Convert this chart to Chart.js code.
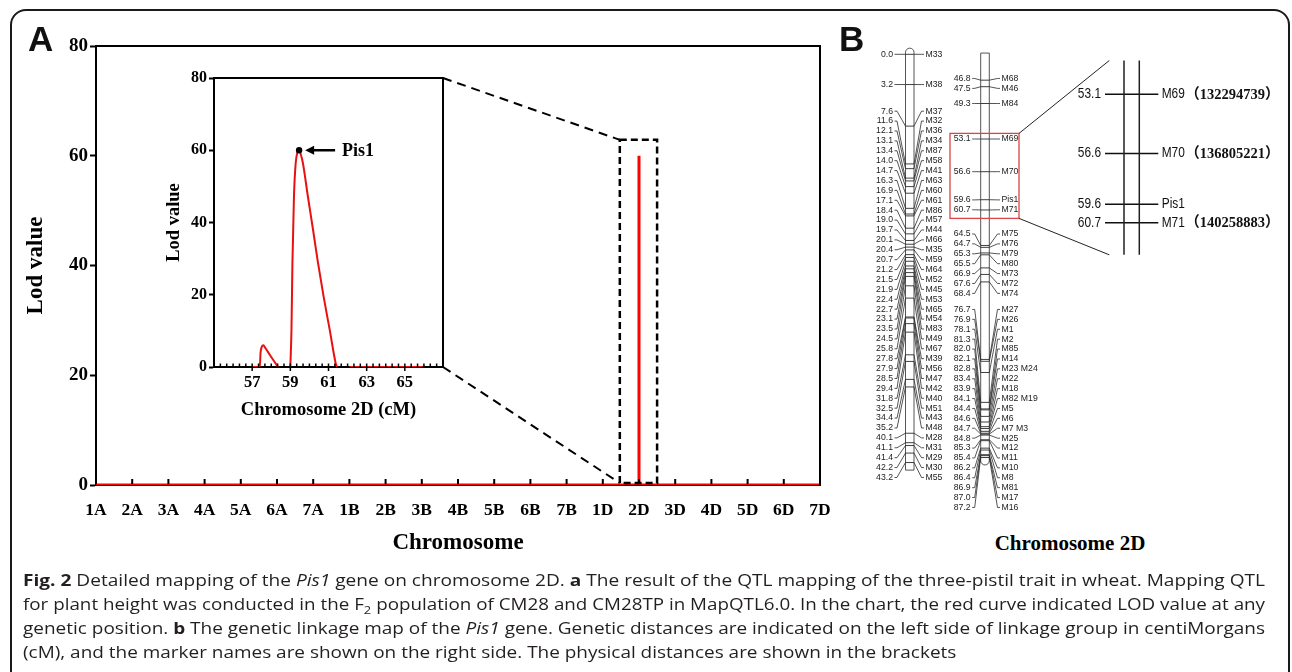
<!DOCTYPE html>
<html><head><meta charset="utf-8">
<script src="https://cdn.jsdelivr.net/npm/chart.js@4.4.1/dist/chart.umd.min.js"></script>
<style>
html,body{margin:0;padding:0;background:#fff;width:1292px;height:672px;overflow:hidden;position:relative;}
#frame{position:absolute;left:10px;top:9px;width:1280px;height:720px;border:2px solid #1a1a1a;border-radius:16px;box-sizing:border-box;}
canvas{position:absolute;}
.big{position:absolute;font-family:'Liberation Sans',Arial,sans-serif;font-weight:bold;color:#111;line-height:1;font-size:35px;}
.ttl{position:absolute;font-family:'Liberation Serif','Times New Roman',serif;font-weight:bold;color:#000;font-size:21px;line-height:24px;white-space:nowrap;}
.cap{position:absolute;left:23px;white-space:nowrap;font-family:'Open Sans','Noto Sans',sans-serif;font-size:16px;color:#231f20;transform-origin:0 50%;line-height:20px;}
.cap sub{font-size:11px;line-height:0;}
</style></head><body>
<div id="frame"></div>
<canvas id="cMain" width="850" height="570" style="left:0;top:0"></canvas>
<canvas id="cInset" width="840" height="570" style="left:0;top:0"></canvas>
<canvas id="cMap" width="442" height="500" style="left:850px;top:30px"></canvas>
<div class="big" style="left:28px;top:21px">A</div>
<div class="big" style="left:839px;top:21px">B</div>
<div class="ttl" id="t2d" style="left:1070px;top:531px;transform:translateX(-50%)">Chromosome 2D</div>
<div class="cap" id="cap1" style="top:570px"><b>Fig. 2</b> Detailed mapping of the <i>Pis1</i> gene on chromosome 2D. <b>a</b> The result of the QTL mapping of the three-pistil trait in wheat. Mapping QTL</div>
<div class="cap" id="cap2" style="top:594px">for plant height was conducted in the F<sub>2</sub> population of CM28 and CM28TP in MapQTL6.0. In the chart, the red curve indicated LOD value at any</div>
<div class="cap" id="cap3" style="top:618px">genetic position. <b>b</b> The genetic linkage map of the <i>Pis1</i> gene. Genetic distances are indicated on the left side of linkage group in centiMorgans</div>
<div class="cap" id="cap4" style="top:642px">(cM), and the marker names are shown on the right side. The physical distances are shown in the brackets</div>
<script>
// ---------------- DATA ----------------
const chromosomes = ['1A','2A','3A','4A','5A','6A','7A','1B','2B','3B','4B','5B','6B','7B','1D','2D','3D','4D','5D','6D','7D'];
const lodTicks = [0, 20, 40, 60, 80];
// genome-wide LOD profile (x in chromosome index units)
const genomePosition = [0, 15, 15, 15, 20];
const genomeLod      = [0, 0, 60, 0, 0];
// highlighted region around 2D (chromosome-index / LOD units)
const zoomBox = {from: 14.47, to: 15.5, bottom: 0.35, top: 62.9};

// inset: LOD along chromosome 2D (cM); null = no curve
const insetCM  = [57.05, 57.40, 57.44, 57.50, 57.58, 57.70, 57.92, 58.15, 58.36, 58.70,
                  59.00, 59.06, 59.11, 59.19, 59.28, 59.37, 59.46, 59.55, 59.66, 59.92, 60.19, 60.45, 60.74, 61.06, 61.37, 61.44,
                  61.80, 62.10, 65.93];
const insetLod = [0, 0, 4.0, 5.5, 6.0, 5.2, 3.4, 1.6, 0, null,
                  0, 10.4, 28.8, 47.2, 56.4, 59.4, 60, 58.8, 56.4, 47.2, 38.0, 28.8, 19.6, 10.4, 1.2, 0,
                  null, 0, 0];
const insetTickLabels = [57, 59, 61, 63, 65];
const peakName = 'Pis1';

// linkage map of chromosome 2D
const leftCM = [0.0,3.2,7.6,11.6,12.1,13.1,13.4,14.0,14.7,16.3,16.9,17.1,18.4,19.0,19.7,20.1,20.4,20.7,21.2,21.5,21.9,22.4,22.7,23.1,23.5,24.5,25.8,27.8,27.9,28.5,29.4,31.8,32.5,34.4,35.2,40.1,41.1,41.4,42.2,43.2];
const leftMarkers = ['M33','M38','M37','M32','M36','M34','M87','M58','M41','M63','M60','M61','M86','M57','M44','M66','M35','M59','M64','M52','M45','M53','M65','M54','M83','M49','M67','M39','M56','M47','M42','M40','M51','M43','M48','M28','M31','M29','M30','M55'];
const midCM = [46.8,47.5,49.3,53.1,56.6,59.6,60.7,64.5,64.7,65.3,65.5,66.9,67.6,68.4,76.7,76.9,78.1,81.3,82.0,82.1,82.8,83.4,83.9,84.1,84.4,84.6,84.7,84.8,85.3,85.4,86.2,86.4,86.9,87.0,87.2];
const midMarkers = ['M68','M46','M84','M69','M70','Pis1','M71','M75','M76','M79','M80','M73','M72','M74','M27','M26','M1','M2','M85','M14','M23 M24','M22','M18','M82 M19','M5','M6','M7 M3','M25','M12','M11','M10','M8','M81','M17','M16'];
const detailCM = [53.1, 56.6, 59.6, 60.7];
const detailMarkers = ['M69', 'M70', 'Pis1', 'M71'];
const detailPhysical = ['132294739', '136805221', '', '140258883'];
const highlightCM = {from: 52.5, to: 61.6};
const detailRangeCM = [51.1, 62.6];

// ---------------- CHARTS ----------------
Chart.defaults.font.family = "'Liberation Serif','Times New Roman',serif";
Chart.defaults.color = '#000';

const mainDecor = {
  id: 'mainDecor',
  afterDraw(chart) {
    const {ctx, chartArea: a, scales: {x, y}} = chart;
    ctx.save();
    ctx.strokeStyle = '#000'; ctx.lineWidth = 2;
    ctx.beginPath(); ctx.moveTo(a.left - 1, a.top); ctx.lineTo(a.right, a.top); ctx.lineTo(a.right, a.bottom); ctx.stroke();
    ctx.beginPath();
    chromosomes.forEach((c, i) => { const px = x.getPixelForValue(i); ctx.moveTo(px, a.bottom - 1); ctx.lineTo(px, a.bottom - 6); });
    ctx.stroke();
    ctx.setLineDash([7, 4]); ctx.lineWidth = 2.5;
    const x0 = x.getPixelForValue(zoomBox.from), x1 = x.getPixelForValue(zoomBox.to);
    const y0 = y.getPixelForValue(zoomBox.top), y1 = y.getPixelForValue(zoomBox.bottom);
    ctx.strokeRect(x0, y0, x1 - x0, y1 - y0);
    ctx.restore();
  }
};

const mainChart = new Chart(document.getElementById('cMain'), {
  type: 'scatter',
  data: {datasets: [{
    data: genomePosition.map((v, i) => ({x: v, y: genomeLod[i]})),
    showLine: true, borderColor: '#ff0000', borderWidth: 3, pointRadius: 0, pointHoverRadius: 0, tension: 0
  }]},
  options: {
    responsive: false, animation: false, devicePixelRatio: 1, events: [],
    layout: {autoPadding: false, padding: {left: 0, top: 46, right: 30, bottom: 10}},
    plugins: {legend: {display: false}, tooltip: {enabled: false}},
    scales: {
      x: {
        type: 'linear', min: 0, max: chromosomes.length - 1,
        afterBuildTicks: s => { s.ticks = chromosomes.map((c, i) => ({value: i})); },
        ticks: {autoSkip: false, maxRotation: 0, minRotation: 0, padding: 15, font: {size: 17.5, weight: 'bold'},
                callback: v => chromosomes[Math.round(v)]},
        grid: {display: false, drawTicks: false},
        border: {display: true, color: '#000', width: 2},
        title: {display: true, text: 'Chromosome', font: {size: 23, weight: 'bold'}, padding: {top: 0, bottom: 3}},
        afterFit: s => { s.height = 75; }
      },
      y: {
        type: 'linear', min: 0, max: 80,
        afterBuildTicks: s => { s.ticks = lodTicks.map(v => ({value: v})); },
        ticks: {padding: 2, font: {size: 19, weight: 'bold'}},
        grid: {display: true, drawOnChartArea: false, drawTicks: true, tickLength: 6, tickWidth: 2, tickColor: '#000'},
        border: {display: true, color: '#000', width: 2},
        title: {display: true, text: 'Lod value', font: {size: 23, weight: 'bold'}, padding: {top: 22, bottom: 0}},
        afterFit: s => { s.width = 96; }
      }
    }
  },
  plugins: [mainDecor]
});

const insetDecor = {
  id: 'insetDecor',
  afterDraw(chart) {
    const {ctx, chartArea: a, scales: {x, y}} = chart;
    ctx.save();
    ctx.strokeStyle = '#000'; ctx.lineWidth = 2;
    ctx.beginPath(); ctx.moveTo(a.left - 1, a.top); ctx.lineTo(a.right, a.top); ctx.lineTo(a.right, a.bottom); ctx.stroke();
    ctx.lineWidth = 1.5;
    ctx.beginPath();
    x.ticks.forEach(t => {
      const px = x.getPixelForValue(t.value);
      const major = insetTickLabels.includes(t.value);
      ctx.moveTo(px, a.bottom - 3.5); ctx.lineTo(px, a.bottom + (major ? 4 : 0));
    });
    ctx.stroke();
    let pi = 0; insetLod.forEach((v, i) => { if (v !== null && v > insetLod[pi]) pi = i; });
    const dx = x.getPixelForValue(insetCM[pi]), dy = y.getPixelForValue(insetLod[pi]);
    ctx.fillStyle = '#000';
    ctx.beginPath(); ctx.arc(dx, dy, 3.2, 0, Math.PI * 2); ctx.fill();
    ctx.lineWidth = 2.5;
    ctx.beginPath(); ctx.moveTo(dx + 12, dy); ctx.lineTo(dx + 36, dy); ctx.stroke();
    ctx.beginPath(); ctx.moveTo(dx + 6, dy); ctx.lineTo(dx + 15, dy - 4.5); ctx.lineTo(dx + 15, dy + 4.5); ctx.closePath(); ctx.fill();
    ctx.font = "bold 18px 'Liberation Serif', serif";
    ctx.textAlign = 'left'; ctx.textBaseline = 'middle';
    ctx.fillText(peakName, dx + 43, dy + 1);
    const mx = mainChart.scales.x, my = mainChart.scales.y;
    const bx = mx.getPixelForValue(zoomBox.from);
    ctx.setLineDash([9, 6]); ctx.lineWidth = 2;
    ctx.beginPath();
    ctx.moveTo(a.right, a.top); ctx.lineTo(bx, my.getPixelForValue(zoomBox.top));
    ctx.moveTo(a.right, a.bottom); ctx.lineTo(bx, my.getPixelForValue(zoomBox.bottom));
    ctx.stroke();
    ctx.restore();
  }
};

const insetChart = new Chart(document.getElementById('cInset'), {
  type: 'scatter',
  data: {datasets: [{
    data: insetCM.map((v, i) => ({x: v, y: insetLod[i]})),
    showLine: true, spanGaps: false, borderColor: '#e81010', borderWidth: 2, pointRadius: 0, pointHoverRadius: 0,
    cubicInterpolationMode: 'monotone'
  }]},
  options: {
    responsive: false, animation: false, devicePixelRatio: 1, events: [],
    layout: {autoPadding: false, padding: {left: 0, top: 78, right: 397, bottom: 143}},
    plugins: {legend: {display: false}, tooltip: {enabled: false}},
    scales: {
      x: {
        type: 'linear', min: 55, max: 67,
        afterBuildTicks: s => { s.ticks = Array.from({length: 37}, (_, k) => ({value: Math.round((55 + k / 3) * 1e6) / 1e6})); },
        ticks: {autoSkip: false, maxRotation: 0, minRotation: 0, padding: 6, font: {size: 16.5, weight: 'bold'},
                callback: v => insetTickLabels.includes(v) ? String(v) : ''},
        grid: {display: false, drawTicks: false},
        border: {display: true, color: '#000', width: 2},
        title: {display: true, text: 'Chromosome 2D (cM)', font: {size: 18.5, weight: 'bold'}, padding: {top: 0, bottom: 6}},
        afterFit: s => { s.height = 60; }
      },
      y: {
        type: 'linear', min: 0, max: 80,
        afterBuildTicks: s => { s.ticks = lodTicks.map(v => ({value: v})); },
        ticks: {padding: 2, font: {size: 16, weight: 'bold'}},
        grid: {display: true, drawOnChartArea: false, drawTicks: true, tickLength: 5, tickWidth: 2, tickColor: '#000'},
        border: {display: true, color: '#000', width: 2},
        title: {display: true, text: 'Lod value', font: {size: 18.5, weight: 'bold'}, padding: {top: 163, bottom: 0}},
        afterFit: s => { s.width = 214; }
      }
    }
  },
  plugins: [insetDecor]
});

// ---------- linkage map ----------
const LAY = {
  gap: 9.9, clusterGap: 1.35,
  left: {labelR: 43, bar0: 55.5, bar1: 64, name: 75.5, ends: [-0.65, 44.0], round: 'top'},
  mid:  {labelR: 120.7, bar0: 130.7, bar1: 139.3, name: 151.5, ends: [43.9, 88.0], round: 'bottom'},
  red:  {x0: 100, x1: 169},
  det:  {labelR: 251, h0: 255, h1: 308.3, v1: 274, v2: 289.3, name: 311.7, conn: 259.3}
};
// label placement: overlapping labels form clusters, each centred on the
// mid-point of its extreme true positions; the closest clusters are joined first
function spread(ts, d, g) {
  const blocks = [];
  ts.forEach((t, i) => {
    blocks.push({i0: i, i1: i, s: t - i * d, n: 1});
    while (blocks.length > 1) {
      const b = blocks[blocks.length - 1], a = blocks[blocks.length - 2];
      if (a.s / a.n > b.s / b.n) { a.i1 = b.i1; a.s += b.s; a.n += b.n; blocks.pop(); } else break;
    }
  });
  const start = b => (ts[b.i0] + ts[b.i1]) / 2 - (b.i1 - b.i0) * d / 2;
  const gapAfter = j => start(blocks[j + 1]) - (start(blocks[j]) + (blocks[j].i1 - blocks[j].i0) * d);
  while (true) {
    let best = -1, bestGap = Infinity;
    for (let j = 0; j < blocks.length - 1; j++) {
      const gp = gapAfter(j);
      if (gp < bestGap) { bestGap = gp; best = j; }
    }
    if (best < 0 || bestGap >= d * g) break;
    const a = blocks[best], b = blocks[best + 1];
    blocks.splice(best, 2, {i0: a.i0, i1: b.i1});
  }
  const out = [];
  blocks.forEach(b => { const s = start(b); for (let i = b.i0; i <= b.i1; i++) out.push(s + (i - b.i0) * d); });
  return out;
}
function textSx(ctx, txt, x, y, align, sx) {
  ctx.save(); ctx.translate(x, y); ctx.scale(sx, 1); ctx.textAlign = align; ctx.fillText(txt, 0, 0); ctx.restore();
  return ctx.measureText(txt).width * sx;
}
const mapDecor = {
  id: 'mapDecor',
  afterDraw(chart) {
    const {ctx, scales} = chart;
    const X = v => scales.x.getPixelForValue(v);
    ctx.save();
    ctx.textBaseline = 'middle';
    function group(Y, cms, names, L) {
      const ts = cms.map(c => Y.getPixelForValue(c));
      const ls = spread(ts, LAY.gap, LAY.clusterGap);
      ctx.strokeStyle = '#2a2a2a'; ctx.lineWidth = 0.8;
      ctx.beginPath();
      const yt = Y.getPixelForValue(L.ends[0]), yb = Y.getPixelForValue(L.ends[1]);
      const w = X(L.bar1) - X(L.bar0), r = w / 2;
      ctx.roundRect(X(L.bar0), yt, w, yb - yt, L.round === 'top' ? [r, r, 0, 0] : [0, 0, r, r]);
      ctx.stroke();
      ctx.beginPath();
      ts.forEach((ty, i) => {
        const ly = ls[i];
        ctx.moveTo(X(L.labelR) + 1.5, ly); ctx.lineTo(X(L.labelR) + 4, ly); ctx.lineTo(X(L.bar0), ty);
        ctx.moveTo(X(L.bar1), ty); ctx.lineTo(X(L.name) - 4, ly); ctx.lineTo(X(L.name) - 1.5, ly);
      });
      ctx.stroke();
      ctx.fillStyle = '#222';
      ctx.font = "8.7px 'Liberation Sans', Arial, sans-serif";
      ts.forEach((ty, i) => {
        textSx(ctx, cms[i].toFixed(1), X(L.labelR), ls[i], 'right', 1);
        textSx(ctx, names[i], X(L.name), ls[i], 'left', 1);
      });
    }
    group(scales.yL, leftCM, leftMarkers, LAY.left);
    group(scales.yM, midCM, midMarkers, LAY.mid);
    const yM = scales.yM, yZ = scales.yZ;
    const r0 = yM.getPixelForValue(highlightCM.from), r1 = yM.getPixelForValue(highlightCM.to);
    ctx.strokeStyle = '#d84545'; ctx.lineWidth = 1.3;
    ctx.strokeRect(X(LAY.red.x0), r0, X(LAY.red.x1) - X(LAY.red.x0), r1 - r0);
    const z0 = yZ.getPixelForValue(detailRangeCM[0]), z1 = yZ.getPixelForValue(detailRangeCM[1]);
    ctx.strokeStyle = '#222'; ctx.lineWidth = 1;
    ctx.beginPath();
    ctx.moveTo(X(LAY.red.x1), r0); ctx.lineTo(X(LAY.det.conn), z0);
    ctx.moveTo(X(LAY.red.x1), r1); ctx.lineTo(X(LAY.det.conn), z1);
    ctx.stroke();
    ctx.lineWidth = 1.5;
    ctx.beginPath();
    ctx.moveTo(X(LAY.det.v1), z0); ctx.lineTo(X(LAY.det.v1), z1);
    ctx.moveTo(X(LAY.det.v2), z0); ctx.lineTo(X(LAY.det.v2), z1);
    ctx.stroke();
    ctx.fillStyle = '#111';
    detailCM.forEach((c, i) => {
      const py = yZ.getPixelForValue(c);
      ctx.font = "14.5px 'Liberation Sans', Arial, sans-serif";
      textSx(ctx, c.toFixed(1), X(LAY.det.labelR), py, 'right', 0.82);
      const w = textSx(ctx, detailMarkers[i], X(LAY.det.name), py, 'left', 0.82);
      if (detailPhysical[i]) {
        ctx.font = "bold 14.5px 'Liberation Serif', 'Noto Sans CJK SC', serif";
        textSx(ctx, '（' + detailPhysical[i] + '）', X(LAY.det.name) + w + 0.5, py + 1, 'left', 1);
      }
    });
    ctx.restore();
  }
};

function lim(c0, p0, k, H) { return {min: c0 - p0 / k, max: c0 + (H - p0) / k}; }
const H = 500;
const limL = lim(0.0, 24.3, 9.45, H), limM = lim(53.1, 109, 9.34, H), limZ = lim(53.1, 64.3, 16.9, H);
const hid = (l) => ({type: 'linear', axis: 'y', reverse: true, min: l.min, max: l.max, display: false});

const mapChart = new Chart(document.getElementById('cMap'), {
  type: 'scatter',
  data: {datasets: [
    {data: leftCM.map(c => ({x: (LAY.left.bar0 + LAY.left.bar1) / 2, y: c})), yAxisID: 'yL',
     pointStyle: 'line', pointRadius: (LAY.left.bar1 - LAY.left.bar0) / 2, borderColor: '#2a2a2a', borderWidth: 0.9},
    {data: midCM.map(c => ({x: (LAY.mid.bar0 + LAY.mid.bar1) / 2, y: c})), yAxisID: 'yM',
     pointStyle: 'line', pointRadius: (LAY.mid.bar1 - LAY.mid.bar0) / 2, borderColor: '#2a2a2a', borderWidth: 0.9},
    {data: detailCM.map(c => ({x: (LAY.det.h0 + LAY.det.h1) / 2, y: c})), yAxisID: 'yZ',
     pointStyle: 'line', pointRadius: (LAY.det.h1 - LAY.det.h0) / 2, borderColor: '#111', borderWidth: 1.5}
  ]},
  options: {
    responsive: false, animation: false, devicePixelRatio: 1, events: [],
    layout: {autoPadding: false, padding: 0},
    plugins: {legend: {display: false}, tooltip: {enabled: false}},
    scales: {
      x: {type: 'linear', min: 0, max: 442, display: false},
      yL: hid(limL), yM: hid(limM), yZ: hid(limZ)
    }
  },
  plugins: [mapDecor]
});

function fitCaption() {
  const target = 1242;
  const ids = ['cap1', 'cap2', 'cap3'];
  let sum = 0;
  ids.forEach(id => {
    const el = document.getElementById(id);
    el.style.transform = 'none';
    const w = el.getBoundingClientRect().width;
    const s = target / w; sum += s;
    el.style.transform = 'scaleX(' + s + ')';
  });
  const el4 = document.getElementById('cap4');
  el4.style.transform = 'scaleX(' + (sum / 3) + ')';
}
fitCaption();
if (document.fonts && document.fonts.ready) document.fonts.ready.then(fitCaption);
</script>
</body></html>
